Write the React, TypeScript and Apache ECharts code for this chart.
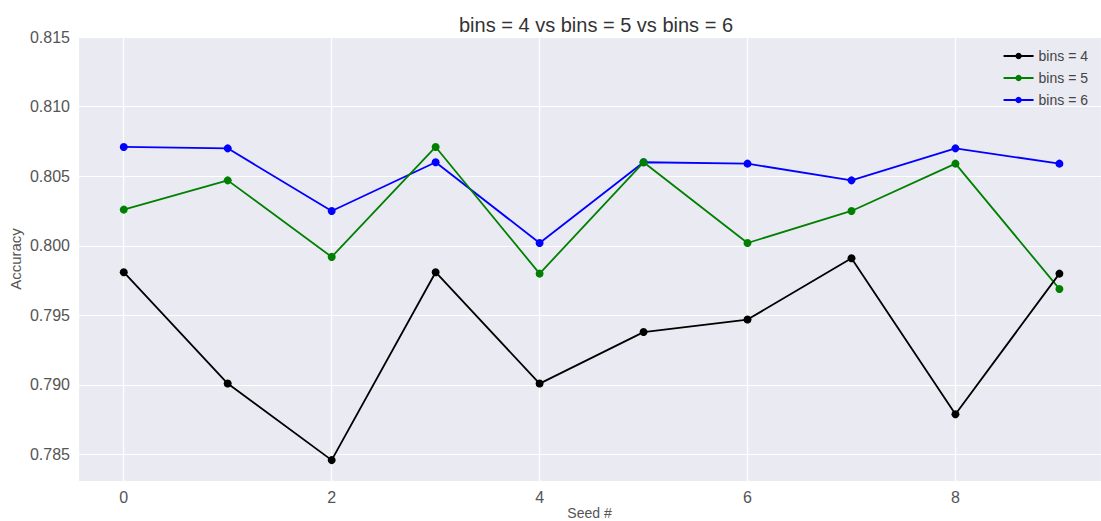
import React, { useEffect, useRef } from "react";
import * as echarts from "echarts";

const seeds = [0, 1, 2, 3, 4, 5, 6, 7, 8, 9];
const bins4 = [0.7981, 0.7901, 0.7846, 0.7981, 0.7901, 0.7938, 0.7947, 0.7991, 0.7879, 0.7980];
const bins5 = [0.8026, 0.8047, 0.7992, 0.8071, 0.7980, 0.8060, 0.8002, 0.8025, 0.8059, 0.7969];
const bins6 = [0.8071, 0.8070, 0.8025, 0.8060, 0.8002, 0.8060, 0.8059, 0.8047, 0.8070, 0.8059];
const seriesNames = ["bins = 4", "bins = 5", "bins = 6"];
const seriesColors = ["#000000", "#008000", "#0000ff"];
const titleText = "bins = 4 vs bins = 5 vs bins = 6";

export default function App() {
  const ref = useRef<HTMLDivElement>(null);
  useEffect(() => {
    if (!ref.current) return;
    const chart = echarts.init(ref.current, null, { renderer: "svg" });
    const all = [bins4, bins5, bins6];
    const series = all.map((vals, i) => ({
      name: seriesNames[i],
      type: "line",
      data: seeds.map((s, j) => [s, vals[j]]),
      symbol: "circle",
      symbolSize: 8,
      lineStyle: { color: seriesColors[i], width: 1.8 },
      itemStyle: { color: seriesColors[i] },
      z: 3 + (2 - i),
    }));
    chart.setOption({
      animation: false,
      backgroundColor: "#ffffff",
      textStyle: { fontFamily: "Liberation Sans, Arial, sans-serif" },
      title: {
        text: titleText,
        left: 591,
        textAlign: "center",
        top: 10,
        textStyle: { fontSize: 20, fontWeight: "normal", color: "#333333" },
      },
      legend: {
        orient: "vertical",
        right: 8,
        top: 44,
        itemWidth: 30,
        itemHeight: 8,
        itemGap: 8,
        data: seriesNames,
        textStyle: { fontSize: 14, color: "#444444" },
      },
      grid: {
        left: 78,
        right: 0,
        top: 37,
        bottom: 40,
        show: true,
        backgroundColor: "#eaeaf2",
        borderWidth: 0,
        outerBoundsMode: "none",
        containLabel: false,
      },
      xAxis: {
        type: "value",
        min: -0.44,
        max: 9.4,
        splitNumber: 5,
        name: "Seed #",
        nameLocation: "middle",
        nameGap: 25,
        nameMoveOverlap: false,
        nameTextStyle: { fontSize: 14, color: "#555555" },
        axisLine: { show: false },
        axisTick: { show: false },
        splitLine: { show: true, lineStyle: { color: "#ffffff", width: 1.2 } },
        axisLabel: {
          fontSize: 16,
          color: "#555555",
          margin: 8,
          showMinLabel: false,
          showMaxLabel: false,
          formatter: (v: number) => (Math.abs(v - Math.round(v)) < 1e-6 ? String(Math.round(v)) : ""),
        },
      },
      yAxis: {
        type: "value",
        min: 0.7831,
        max: 0.815,
        splitNumber: 5,
        name: "Accuracy",
        nameLocation: "middle",
        nameGap: 55,
        nameMoveOverlap: false,
        nameTextStyle: { fontSize: 15, color: "#555555" },
        axisLine: { show: false },
        axisTick: { show: false },
        splitLine: { show: true, lineStyle: { color: "#ffffff", width: 1.2 } },
        axisLabel: {
          fontSize: 16,
          color: "#555555",
          margin: 8,
          formatter: (v: number) => {
            const k = v / 0.005;
            return Math.abs(k - Math.round(k)) < 1e-4 ? v.toFixed(3) : "";
          },
        },
      },
      series,
    });
    return () => chart.dispose();
  }, []);
  return (
    <div
      ref={ref}
      style={{ position: "fixed", left: 0, top: 0, width: 1101, height: 521 }}
    />
  );
}
